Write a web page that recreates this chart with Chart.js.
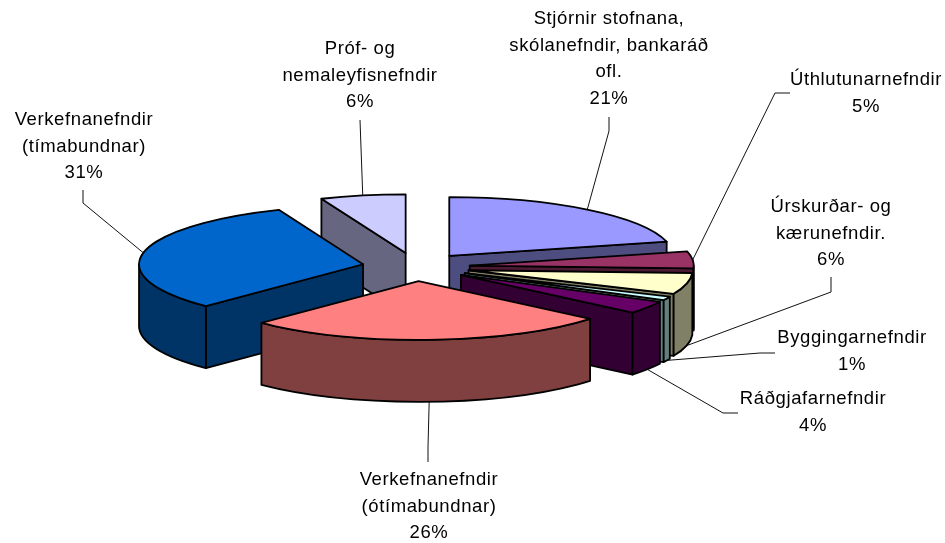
<!DOCTYPE html>
<html>
<head>
<meta charset="utf-8">
<script src="https://cdn.jsdelivr.net/npm/chart.js@4"></script>
<style>
  body { margin: 0; background: #fff; }
  canvas { display: block; }
</style>
</head>
<body>
<canvas id="pie3d" width="945" height="543"></canvas>
<script>
// the sweeps are a bit off the printed percentages
var categories = [
	["Stjórnir stofnana,", "skólanefndir, bankaráð", "ofl."],
	["Úthlutunarnefndir"],
	["Úrskurðar- og", "kærunefndir."],
	["Byggingarnefndir"],
	["Ráðgjafarnefndir"],
	["Verkefnanefndir", "(ótímabundnar)"],
	["Verkefnanefndir", "(tímabundnar)"],
	["Próf- og", "nemaleyfisnefndir"]
];
var shares = [21, 4.6, 5.8, 1, 3.5, 26.1, 31.3, 6.1];
var topColors = ["#9999FF", "#993366", "#FFFFCC", "#CCFFFF", "#660066", "#FF8080", "#0066CC", "#CCCCFF"];
var sideColors = ["#4D4D80", "#4D1A33", "#808066", "#668080", "#330033", "#804040", "#003366", "#666680"];

// label placement: centre x, first line baseline y
var labelSpots = [[609, 24], [866, 85], [831, 212], [852, 343], [813, 404], [429, 485], [84, 125], [360, 54]];
// leader line, from the label side towards the slice (the slice end is computed)
var leaderBends = [
	[[609, 117], [609, 131]],
	[[790, 93], [775, 93]],
	[[831, 277], [831, 292]],
	[[775, 353], [760, 353]],
	[[738, 413], [723, 413]],
	[[428, 462], [428, 447]],
	[[83, 190], [83, 203]],
	[[360, 120]]
];

var SQUASH = 0.262;   // height of the ellipse against its width
var DEPTH = 62;       // height of the pie wall
var EXPLODE = 54;     // how far every slice is pulled out
var RADIUS = 224;
var LINE_GAP = 26.6;
var EDGE_WIDTH = 1.8;

function sliceGeometry(arc) {
	var p = arc.getProps(["x", "y", "startAngle", "endAngle"]);
	var mid = (p.startAngle + p.endAngle) / 2;
	return {
		ax: p.x + Math.cos(mid) * EXPLODE,
		ay: p.y + Math.sin(mid) * EXPLODE * SQUASH,
		a0: p.startAngle,
		a1: p.endAngle,
		mid: mid,
		cx: p.x,
		cy: p.y
	};
}

function cutWall(ctx, g, angle) {
	var ex = g.ax + Math.cos(angle) * RADIUS;
	var ey = g.ay + Math.sin(angle) * RADIUS * SQUASH;
	ctx.beginPath();
	ctx.moveTo(g.ax, g.ay);
	ctx.lineTo(ex, ey);
	ctx.lineTo(ex, ey + DEPTH);
	ctx.lineTo(g.ax, g.ay + DEPTH);
	ctx.closePath();
	ctx.fill();
	ctx.stroke();
}

function rimWall(ctx, g) {
	// only the part of the rim that faces the viewer, canvas angles 0..PI
	var two = Math.PI * 2;
	var from = g.a0, to = g.a1;
	while (to > two) { from -= two; to -= two; }
	from = Math.max(from, 0);
	to = Math.min(to, Math.PI);
	if (to <= from) return;
	ctx.beginPath();
	ctx.ellipse(g.ax, g.ay, RADIUS, RADIUS * SQUASH, 0, from, to);
	ctx.ellipse(g.ax, g.ay + DEPTH, RADIUS, RADIUS * SQUASH, 0, to, from, true);
	ctx.closePath();
	ctx.fill();
	ctx.stroke();
}

var pie3dPlugin = {
	id: "pie3d",
	beforeDatasetDraw: function (chart) {
		var ctx = chart.ctx;
		var arcs = chart.getDatasetMeta(0).data;
		// back slices first
		var order = arcs.map(function (a, i) { return i; });
		order.sort(function (a, b) {
			return Math.sin(sliceGeometry(arcs[a]).mid) - Math.sin(sliceGeometry(arcs[b]).mid);
		});
		order.forEach(function (i) {
			var g = sliceGeometry(arcs[i]);
			ctx.save();
			ctx.lineWidth = EDGE_WIDTH;
			ctx.lineJoin = "round";
			ctx.strokeStyle = "#000";
			ctx.fillStyle = sideColors[i];
			// a cut face shows only if its outward side points down the screen
			if (Math.sin(g.a0 - Math.PI / 2) > 0.001) cutWall(ctx, g, g.a0);
			if (Math.sin(g.a1 + Math.PI / 2) > 0.001) cutWall(ctx, g, g.a1);
			rimWall(ctx, g);
			ctx.restore();

			ctx.save();
			ctx.translate(g.ax, g.ay);
			ctx.scale(1, SQUASH);
			ctx.translate(-g.cx, -g.cy);
			arcs[i].draw(ctx);
			ctx.restore();

			ctx.save();
			ctx.lineWidth = EDGE_WIDTH;
			ctx.lineJoin = "round";
			ctx.strokeStyle = "#000";
			ctx.beginPath();
			ctx.moveTo(g.ax, g.ay);
			ctx.ellipse(g.ax, g.ay, RADIUS, RADIUS * SQUASH, 0, g.a0, g.a1);
			ctx.closePath();
			ctx.stroke();
			ctx.restore();
		});
		return false; // slices are already painted, in our order
	},
	afterDraw: function (chart) {
		var ctx = chart.ctx;
		var arcs = chart.getDatasetMeta(0).data;
		var total = shares.reduce(function (s, v) { return s + v; }, 0);
		ctx.save();
		ctx.strokeStyle = "#111";
		ctx.lineWidth = 1;
		arcs.forEach(function (arc, i) {
			var g = sliceGeometry(arc);
			var ex = g.ax + Math.cos(g.mid) * RADIUS;
			var ey = g.ay + Math.sin(g.mid) * RADIUS * SQUASH;
			if (Math.sin(g.mid) > 0) ey += DEPTH;
			ctx.beginPath();
			leaderBends[i].forEach(function (pt, n) {
				if (n === 0) ctx.moveTo(pt[0], pt[1]);
				else ctx.lineTo(pt[0], pt[1]);
			});
			ctx.lineTo(ex, ey);
			ctx.stroke();
		});
		ctx.fillStyle = "#000";
		ctx.font = '18.5px "Liberation Sans", Arial, sans-serif';
		ctx.letterSpacing = "0.6px";
		ctx.textAlign = "center";
		ctx.textBaseline = "alphabetic";
		categories.forEach(function (lines, i) {
			var rows = lines.concat(Math.round(shares[i] / total * 100) + "%");
			rows.forEach(function (row, n) {
				ctx.fillText(row, labelSpots[i][0], labelSpots[i][1] + n * LINE_GAP);
			});
		});
		ctx.restore();
	}
};

new Chart(document.getElementById("pie3d").getContext("2d"), {
	type: "pie",
	data: {
		labels: categories.map(function (l) { return l.join(" "); }),
		datasets: [{
			data: shares,
			backgroundColor: topColors,
			borderWidth: 0,
			radius: RADIUS,
			clip: false
		}]
	},
	options: {
		responsive: false,
		animation: false,
		layout: { padding: { right: 113, bottom: 9 } },
		plugins: { legend: { display: false }, tooltip: { enabled: false } }
	},
	plugins: [pie3dPlugin]
});
</script>
</body>
</html>
